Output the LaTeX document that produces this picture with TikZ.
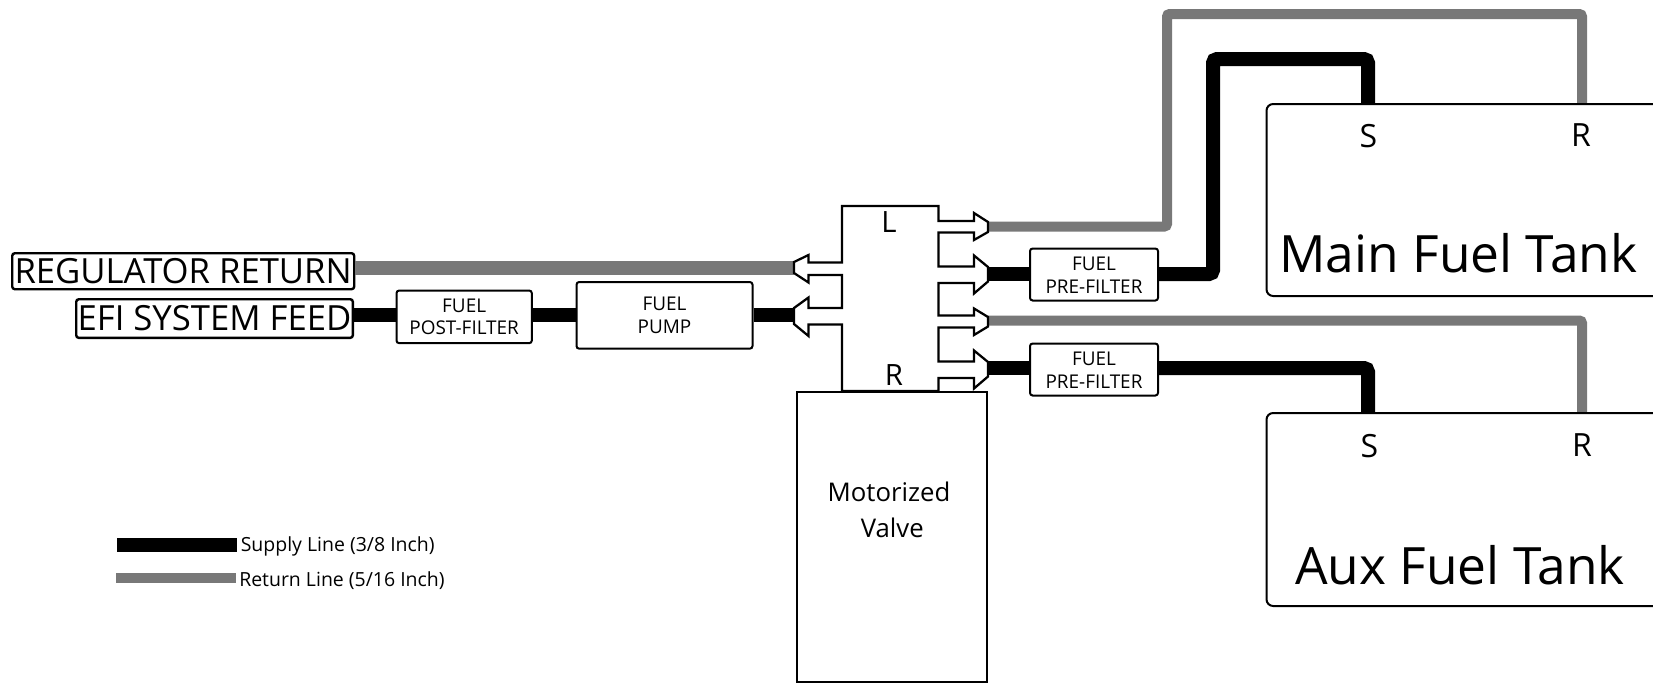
\documentclass[tikz,border=0pt]{standalone}
\usepackage{fontspec}
\setmainfont{Open Sans}
\definecolor{retgray}{gray}{0.47}
\tikzset{
  x=0.75pt,y=-0.75pt,
  box/.style={draw=black,line width=1.5pt,rounded corners=2pt,fill=white,align=center,inner sep=0pt,anchor=north west},
  supply/.style={draw=black,line width=10.5pt,rounded corners=3pt},
  return/.style={draw=retgray,line width=7.5pt,rounded corners=2pt},
  valve/.style={draw=black,line width=1.7pt,fill=white,line join=miter},
  small/.style={font=\fontsize{14.2}{17.2}\selectfont},
  tank/.style={font=\fontsize{38.6}{46}\selectfont},
  port/.style={font=\fontsize{24}{28}\selectfont},
  biglabel/.style={font=\fontsize{26}{30}\selectfont},
  label/.style={font=\fontsize{14.6}{17}\selectfont,anchor=west,inner sep=0pt},
}
\begin{document}
\begin{tikzpicture}
\useasboundingbox (0,0) rectangle (1653,683);
% port tips
\coordinate (pL1) at (988,226.5);
\coordinate (pL2) at (988,274);
\coordinate (pR1) at (988,320.5);
\coordinate (pR2) at (988,368);
\coordinate (pOutRet) at (794,268);
\coordinate (pOutFeed) at (794,315);
\coordinate (bendA) at (1167,14);
\coordinate (bendB) at (1582,14);
\coordinate (bendC) at (1213,59);
\coordinate (bendD) at (1368,59);
% tank ports
\coordinate (mainS) at (1368,104);
\coordinate (mainR) at (1582,104);
\coordinate (auxS) at (1368,413);
\coordinate (auxR) at (1582,413);
% lines
\draw[return] (pL1) -- (pL1 -| bendA) -- (bendA) -- (bendB) -- (mainR);
\draw[return] (pR1) -- (pR1 -| auxR) -- (auxR);
\node[box,minimum width=96pt,minimum height=39pt,small,text depth=0pt] (pre1) at (1029,247.5) {\raisebox{-1.3pt}{FUEL}\\\raisebox{-1.3pt}{PRE-FILTER}};
\node[box,minimum width=96pt,minimum height=39pt,small,text depth=0pt] (pre2) at (1029,342.5) {\raisebox{-1.3pt}{FUEL}\\\raisebox{-1.3pt}{PRE-FILTER}};
\draw[supply] (pL2) -- (pL2 -| pre1.west);
\draw[supply] (pL2 -| pre1.east) -- (pL2 -| bendC) -- (bendC) -- (bendD) -- (mainS);
\draw[supply] (pR2) -- (pR2 -| pre2.west);
\draw[supply] (pR2 -| pre2.east) -- (pR2 -| auxS) -- (auxS);
% tanks
\path[draw=black,line width=1.5pt,fill=white,rounded corners=5pt] (1660,104) -- (1266.5,104) -- (1266.5,296) -- (1660,296);
\path[draw=black,line width=1.5pt,fill=white,rounded corners=5pt] (1660,413) -- (1266.5,413) -- (1266.5,606) -- (1660,606);
\node[port] (ts1) at (1368.5,136) {S};
\node[port] (tr1) at (1581,135) {R};
\node[port] (ts2) at (1369.5,446) {S};
\node[port] (tr2) at (1582,445) {R};
\node[tank] (maintank) at (1458.5,253) {Main Fuel Tank};
\node[tank] (auxtank) at (1460,565) {Aux Fuel Tank};
% left side
\node[box,minimum width=256.5pt,minimum height=27pt,biglabel,line width=1.8pt] (regret) at (11,252) {REGULATOR RETURN};
\node[box,minimum width=207.5pt,minimum height=29pt,biglabel,line width=1.8pt] (efi) at (75,298) {EFI SYSTEM FEED};
\node[box,minimum width=101.5pt,minimum height=39.5pt,small] (post) at (395.5,289.5) {FUEL\\POST-FILTER};
\node[box,minimum width=132pt,minimum height=50pt,small] (pump) at (575.5,281) {FUEL\\PUMP};
\draw[retgray,line width=10pt] (pOutRet -| regret.east) -- (pOutRet);
\draw[supply] (pOutFeed -| efi.east) -- (pOutFeed -| post.west);
\draw[supply] (pOutFeed -| post.east) -- (pOutFeed -| pump.west);
\draw[supply] (pOutFeed -| pump.east) -- (pOutFeed);
% valve body with port arrows
\path[valve]
  (842,206) -- (938.5,206) -- (938.5,221) -- (974,221) -- (974,213) -- (988,222) -- (988,232) -- (974,240) -- (974,232.5) -- (938.5,232.5)
  -- (938.5,266.5) -- (974,266.5) -- (974,255.5) -- (988,267) -- (988,281.5) -- (974,293.5) -- (974,283) -- (938.5,283)
  -- (938.5,315.5) -- (974,315.5) -- (974,308.5) -- (988,317) -- (988,326.5) -- (974,335) -- (974,327.5) -- (938.5,327.5)
  -- (938.5,361.5) -- (974,361.5) -- (974,350.5) -- (988,362) -- (988,376.5) -- (974,388.5) -- (974,378) -- (938.5,378)
  -- (938.5,391) -- (842,391)
  -- (842,324.5) -- (808.5,324.5) -- (808.5,336) -- (794,324) -- (794,308) -- (808.5,297.5) -- (808.5,308) -- (842,308)
  -- (842,275) -- (808.5,275) -- (808.5,282.5) -- (794,273) -- (794,262) -- (808.5,255) -- (808.5,262.5) -- (842,262.5) -- cycle;
\node[font=\fontsize{22}{26}\selectfont] (lbl) at (889,222) {L};
\node[font=\fontsize{22}{26}\selectfont] (rbl) at (894,375) {R};
\node[draw=black,line width=1.7pt,fill=white,anchor=north west,minimum width=143pt,minimum height=218pt,inner sep=0pt] (motor) at (795.5,390.5) {};
\node[align=center,font=\fontsize{19.3}{27.5}\selectfont] (motortxt) at (889,510) {Motorized\\\hspace*{5pt}Valve};
% legend
\coordinate (lgA) at (117,545);
\coordinate (lgB) at (237,545);
\coordinate (lgC) at (116,578);
\coordinate (lgD) at (236,578);
\draw[black,line width=10.5pt] (lgA) -- (lgB);
\draw[retgray,line width=7.5pt] (lgC) -- (lgD);
\node[label] (lg1) at (240.5,546.5) {Supply Line (3/8 Inch)};
\node[label] (lg2) at (239,581) {Return Line (5/16 Inch)};
\end{tikzpicture}
\end{document}
